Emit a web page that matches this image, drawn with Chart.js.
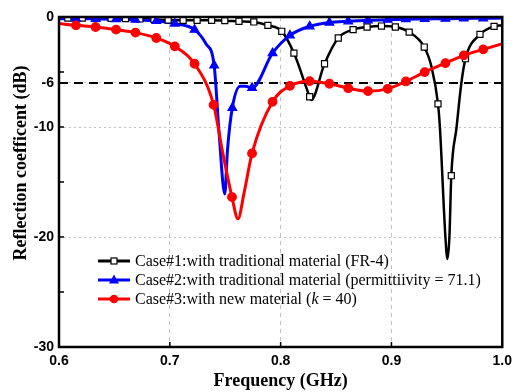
<!DOCTYPE html>
<html>
<head>
<meta charset="utf-8">
<script src="https://cdn.jsdelivr.net/npm/chart.js@4/dist/chart.umd.min.js"></script>
<style>
html, body { margin: 0; padding: 0; background: #fff; }
#wrap { position: relative; width: 518px; height: 392px; }
#legend { position: absolute; left: 97px; top: 251px; font: 16px "Liberation Serif", "Times New Roman", serif; color: #000; }
.row { height: 19.4px; display: flex; align-items: center; white-space: nowrap; }
.row canvas { margin-right: 4px; }
</style>
</head>
<body>
<div id="wrap">
	<canvas id="chart" width="518" height="392"></canvas>
	<div id="legend"></div>
</div>
<script>
var freqTicks = [0.6, 0.7, 0.8, 0.9, 1.0];
var dbTicks = [0, -6, -10, -20, -30];
var dbMinorTicks = [-5, -15, -25];
var threshold = -6;

// Case#1 (FR-4), black squares
var case1Freq = [0.6, 0.608, 0.621, 0.634, 0.647, 0.66, 0.673, 0.6857, 0.6985, 0.712, 0.7246, 0.7377, 0.7496, 0.7624, 0.7758, 0.7885, 0.801, 0.812, 0.8262, 0.8275, 0.8396, 0.852, 0.8654, 0.878, 0.891, 0.9035, 0.916, 0.9296, 0.9362, 0.942, 0.9437, 0.9487, 0.9505, 0.9523, 0.954, 0.9588, 0.963, 0.9668, 0.9799, 0.9926, 1.0];
var case1Db = [-0.1, -0.1, -0.1, -0.12, -0.13, -0.15, -0.18, -0.22, -0.28, -0.3, -0.3, -0.3, -0.33, -0.39, -0.45, -0.76, -1.3, -3.28, -7.25, -7.55, -4.25, -1.91, -1.15, -0.91, -0.82, -0.91, -1.37, -2.73, -4.56, -7.9, -10, -20, -22, -20, -14.43, -10, -6.07, -3.79, -1.58, -0.85, -0.76];
var case1MarkFreq = [0.608, 0.621, 0.634, 0.647, 0.66, 0.673, 0.6857, 0.6985, 0.712, 0.7246, 0.7377, 0.7496, 0.7624, 0.7758, 0.7885, 0.801, 0.812, 0.8262, 0.8396, 0.852, 0.8654, 0.878, 0.891, 0.9035, 0.916, 0.9296, 0.942, 0.954, 0.9668, 0.9799, 0.9926];
var case1MarkDb = [-0.1, -0.1, -0.12, -0.13, -0.15, -0.18, -0.22, -0.28, -0.3, -0.3, -0.3, -0.33, -0.39, -0.45, -0.76, -1.3, -3.28, -7.25, -4.25, -1.91, -1.15, -0.91, -0.82, -0.91, -1.37, -2.73, -7.9, -14.43, -3.79, -1.58, -0.85];

// Case#2 (permittivity 71.1), blue triangles
var case2Freq = [0.6, 0.6153, 0.633, 0.6515, 0.669, 0.6878, 0.7045, 0.7223, 0.7326, 0.74, 0.7445, 0.7496, 0.752, 0.7564, 0.7635, 0.7683, 0.7742, 0.7927, 0.8084, 0.8262, 0.844, 0.861, 0.8788, 0.8966, 0.913, 0.93, 0.9487, 0.9653, 0.9828, 1.0];
var case2Db = [-0.15, -0.15, -0.17, -0.2, -0.25, -0.36, -0.6, -1.15, -2.43, -4.4, -10.6, -16.1, -12.15, -8.26, -6.3, -6.3, -6.44, -3.28, -1.67, -0.85, -0.51, -0.39, -0.3, -0.25, -0.2, -0.18, -0.15, -0.13, -0.12, -0.1];
var case2MarkFreq = [0.6153, 0.633, 0.6515, 0.669, 0.6878, 0.7045, 0.7223, 0.74, 0.7564, 0.7742, 0.7927, 0.8084, 0.8262, 0.844, 0.861, 0.8788, 0.8966, 0.913, 0.93, 0.9487, 0.9653, 0.9828];
var case2MarkDb = [-0.15, -0.17, -0.2, -0.25, -0.36, -0.6, -1.15, -4.4, -8.26, -6.44, -3.28, -1.67, -0.85, -0.51, -0.39, -0.3, -0.25, -0.2, -0.18, -0.15, -0.13, -0.12];

// Case#3 (new material, k = 40), red circles
var case3Freq = [0.6, 0.6153, 0.633, 0.6515, 0.669, 0.6878, 0.7045, 0.7223, 0.7395, 0.7475, 0.7561, 0.7615, 0.7668, 0.7742, 0.7927, 0.8084, 0.8262, 0.844, 0.861, 0.8788, 0.8966, 0.913, 0.93, 0.9487, 0.9653, 0.9828, 1.0];
var case3Db = [-0.6, -0.76, -0.91, -1.15, -1.42, -1.91, -2.67, -4.25, -7.99, -12.2, -16.37, -18.35, -16.1, -12.4, -7.71, -6.26, -5.83, -6.07, -6.47, -6.74, -6.53, -5.86, -5.01, -4.19, -3.49, -2.94, -2.43];
var case3MarkFreq = [0.6153, 0.633, 0.6515, 0.669, 0.6878, 0.7045, 0.7223, 0.7395, 0.7561, 0.7742, 0.7927, 0.8084, 0.8262, 0.844, 0.861, 0.8788, 0.8966, 0.913, 0.93, 0.9487, 0.9653, 0.9828];
var case3MarkDb = [-0.76, -0.91, -1.15, -1.42, -1.91, -2.67, -4.25, -7.99, -16.37, -12.4, -7.71, -6.26, -5.83, -6.07, -6.47, -6.74, -6.53, -5.86, -5.01, -4.19, -3.49, -2.94];

var legendLabels = [
	'Case#1:with traditional material (FR-4)',
	'Case#2:with traditional material (permittiivity = 71.1)',
	'Case#3:with new material (<i>k</i> = 40)'
];
var xTitle = 'Frequency (GHz)';
var yTitle = 'Reflection coefficent (dB)';

function pts (fs, ds) {
	return fs.map(function (f, i) { return {x: f, y: ds[i]}; });
}

function lineSet (data, color, width, order) {
	return {data: data, borderColor: color, borderWidth: width, pointRadius: 0, cubicInterpolationMode: 'monotone', fill: false, order: order};
}

function markSet (data, style, fillColor, edge, radius, order) {
	return {data: data, showLine: false, pointStyle: style, pointRadius: radius, pointBackgroundColor: fillColor,
		pointBorderColor: edge, pointBorderWidth: 1.2, order: order};
}

var boxPlugin = {
	id: 'box',
	afterDraw: function (chart) {
		var ctx = chart.ctx, a = chart.chartArea, xs = chart.scales.x, ys = chart.scales.y;
		ctx.save();
		ctx.strokeStyle = '#000';
		ctx.lineWidth = 1.5;
		ctx.beginPath();
		freqTicks.slice(1, -1).forEach(function (v) {
			var p = xs.getPixelForValue(v);
			ctx.moveTo(p, a.bottom); ctx.lineTo(p, a.bottom - 5);
		});
		dbMinorTicks.concat([-10, -20]).forEach(function (v) {
			var p = ys.getPixelForValue(v);
			ctx.moveTo(a.left, p); ctx.lineTo(a.left + 5, p);
		});
		ctx.stroke();
		ctx.lineWidth = 2.5;
		ctx.strokeRect(a.left, a.top, a.right - a.left, a.bottom - a.top);
		// y title
		ctx.translate(21, 163);
		ctx.rotate(-Math.PI / 2);
		ctx.font = 'bold 18px "Liberation Serif"';
		ctx.fillStyle = '#000';
		ctx.textAlign = 'center';
		ctx.textBaseline = 'middle';
		ctx.fillText(yTitle, 0, 0);
		ctx.restore();
	}
};

new Chart(document.getElementById('chart').getContext('2d'), {
	type: 'line',
	data: {
		datasets: [
			markSet(pts(case3MarkFreq, case3MarkDb), 'circle', '#ff0000', '#ff0000', 4.3, 1),
			lineSet(pts(case3Freq, case3Db), '#ff0000', 3, 2),
			markSet(pts(case2MarkFreq, case2MarkDb), 'triangle', '#0000ff', '#0000ff', 5, 3),
			markSet(pts(case1MarkFreq, case1MarkDb), 'rect', '#ffffff', '#000000', 4.3, 4),
			lineSet(pts(case2Freq, case2Db), '#0000ff', 3, 5),
			lineSet(pts(case1Freq, case1Db), '#000000', 2.5, 6),
			{data: pts([freqTicks[0], freqTicks[freqTicks.length - 1]], [threshold, threshold]), borderColor: '#000',
				borderWidth: 2, borderDash: [9, 6], pointRadius: 0, order: 7}
		]
	},
	options: {
		responsive: false,
		animation: false,
		layout: {padding: {top: 17, right: 10, left: 0, bottom: 0}},
		plugins: {legend: {display: false}, tooltip: {enabled: false}},
		scales: {
			x: {
				type: 'linear', min: 0.6, max: 1.0,
				afterBuildTicks: function (s) { s.ticks = freqTicks.map(function (v) { return {value: v}; }); },
				afterFit: function (s) { s.height = 45; },
				ticks: {color: '#000', font: {family: 'Liberation Sans', weight: 'bold', size: 14}, padding: 6,
					maxRotation: 0, autoSkip: false, callback: function (v) { return v.toFixed(1); }},
				grid: {drawTicks: false, lineWidth: 1,
					color: function (c) { return (c.tick && c.tick.value > 0.65 && c.tick.value < 0.95) ? '#c4c4c4' : 'rgba(0,0,0,0)'; }},
				border: {display: false, dash: [4, 4]},
				title: {display: true, text: xTitle, color: '#000', font: {family: 'Liberation Serif', weight: 'bold', size: 18}, padding: 0}
			},
			y: {
				min: -30, max: 0,
				afterBuildTicks: function (s) {
					s.ticks = dbTicks.concat(dbMinorTicks).sort(function (p, q) { return p - q; }).map(function (v) { return {value: v}; });
				},
				afterFit: function (s) { s.width = 59; },
				ticks: {color: '#000', font: {family: 'Liberation Sans', weight: 'bold', size: 14}, padding: 5, autoSkip: false,
					callback: function (v) { return dbTicks.indexOf(v) >= 0 ? String(v) : ''; }},
				grid: {drawTicks: false, lineWidth: 1,
					color: function (c) { return (c.tick && (c.tick.value === -10 || c.tick.value === -20 || c.tick.value === -6)) ? '#c4c4c4' : 'rgba(0,0,0,0)'; }},
				border: {display: false, dash: [2, 3]}
			}
		}
	},
	plugins: [boxPlugin]
});

// legend, drawn as html rows with a small line+marker swatch
var swatches = [
	{color: '#000000', marker: 'rect'},
	{color: '#0000ff', marker: 'triangle'},
	{color: '#ff0000', marker: 'circle'}
];
var legend = document.getElementById('legend');
legendLabels.forEach(function (label, i) {
	var row = document.createElement('div');
	row.className = 'row';
	var c = document.createElement('canvas');
	c.width = 34; c.height = 14;
	var g = c.getContext('2d'), sw = swatches[i];
	g.strokeStyle = sw.color; g.lineWidth = 3;
	g.beginPath(); g.moveTo(1, 7); g.lineTo(33, 7); g.stroke();
	g.lineWidth = 1.2;
	if (sw.marker === 'rect') {
		g.fillStyle = '#fff'; g.strokeStyle = '#000';
		g.fillRect(14, 4, 6, 6); g.strokeRect(14, 4, 6, 6);
	} else if (sw.marker === 'triangle') {
		g.fillStyle = sw.color;
		g.beginPath(); g.moveTo(17, 1.5); g.lineTo(22, 10.5); g.lineTo(12, 10.5); g.closePath(); g.fill();
	} else {
		g.fillStyle = sw.color;
		g.beginPath(); g.arc(17, 7, 4.3, 0, Math.PI * 2); g.fill();
	}
	var span = document.createElement('span');
	span.innerHTML = label;
	row.appendChild(c);
	row.appendChild(span);
	legend.appendChild(row);
});
</script>
</body>
</html>
